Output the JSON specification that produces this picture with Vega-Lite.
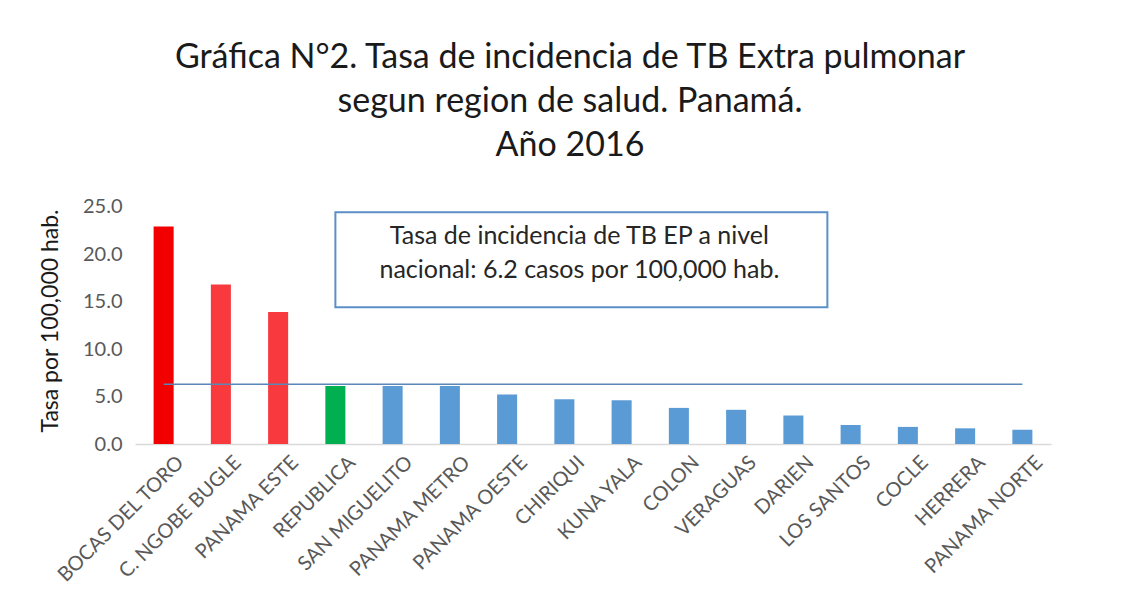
{
  "$schema": "https://vega.github.io/schema/vega-lite/v6.json",
  "autosize": "none",
  "width": 916,
  "height": 247,
  "padding": {"left": 135, "top": 197, "right": 74, "bottom": 171},
  "background": "white",
  "config": {"view": {"stroke": null}, "font": "Lato"},
  "title": {
    "text": ["Gráfica N°2. Tasa de incidencia de TB Extra pulmonar", "segun region de salud. Panamá.", "Año 2016"],
    "fontSize": 34,
    "fontWeight": "normal",
    "font": "Lato",
    "color": "#1a1a1a",
    "lineHeight": 44,
    "anchor": "middle",
    "dx": -23,
    "offset": 34
  },
  "datasets": {
    "tasas": [
      {"region": "BOCAS DEL TORO", "tasa": 22.9, "grupo": "muy alto"},
      {"region": "C. NGOBE BUGLE", "tasa": 16.8, "grupo": "alto"},
      {"region": "PANAMA ESTE", "tasa": 13.9, "grupo": "alto"},
      {"region": "REPUBLICA", "tasa": 6.1, "grupo": "nacional"},
      {"region": "SAN MIGUELITO", "tasa": 6.1, "grupo": "otro"},
      {"region": "PANAMA METRO", "tasa": 6.1, "grupo": "otro"},
      {"region": "PANAMA OESTE", "tasa": 5.2, "grupo": "otro"},
      {"region": "CHIRIQUI", "tasa": 4.7, "grupo": "otro"},
      {"region": "KUNA YALA", "tasa": 4.6, "grupo": "otro"},
      {"region": "COLON", "tasa": 3.8, "grupo": "otro"},
      {"region": "VERAGUAS", "tasa": 3.6, "grupo": "otro"},
      {"region": "DARIEN", "tasa": 3.0, "grupo": "otro"},
      {"region": "LOS SANTOS", "tasa": 2.0, "grupo": "otro"},
      {"region": "COCLE", "tasa": 1.8, "grupo": "otro"},
      {"region": "HERRERA", "tasa": 1.65, "grupo": "otro"},
      {"region": "PANAMA NORTE", "tasa": 1.5, "grupo": "otro"}
    ],
    "linea": [{"desde": "BOCAS DEL TORO", "hasta": "PANAMA NORTE", "valor": 6.3}],
    "caja": [{"desde": "REPUBLICA", "hasta": "DARIEN", "arriba": 24.4, "abajo": 14.4, "centro": "CHIRIQUI", "medio": 21.9,
      "texto": ["Tasa de incidencia de TB EP a nivel", "nacional: 6.2 casos por 100,000 hab."]}]
  },
  "layer": [
    {
      "data": {"name": "tasas"},
      "mark": {"type": "bar"},
      "encoding": {
        "x": {
          "field": "region", "type": "nominal", "sort": null,
          "scale": {
            "domain": ["BOCAS DEL TORO", "C. NGOBE BUGLE", "PANAMA ESTE", "REPUBLICA", "SAN MIGUELITO", "PANAMA METRO", "PANAMA OESTE", "CHIRIQUI", "KUNA YALA", "COLON", "VERAGUAS", "DARIEN", "LOS SANTOS", "COCLE", "HERRERA", "PANAMA NORTE"],
            "paddingInner": 0.65, "paddingOuter": 0.325
          },
          "axis": {
            "title": null, "labelAngle": -45, "labelFontSize": 20, "labelColor": "#595959",
            "labelFont": "Lato", "ticks": false, "domainColor": "#d9d9d9", "domainWidth": 1.5,
            "labelPadding": 8, "labelOffset": 10
          }
        },
        "y": {
          "field": "tasa", "type": "quantitative",
          "scale": {"domain": [0, 25]},
          "axis": {
            "title": "Tasa por 100,000 hab.", "titleFontSize": 23, "titleFontWeight": "normal",
            "titleColor": "#1a1a1a", "titleFont": "Lato", "titlePadding": 20,
            "values": [0, 5, 10, 15, 20, 25], "format": ".1f", "grid": false,
            "domain": false, "ticks": false, "labelFontSize": 20, "labelColor": "#595959",
            "labelPadding": 13
          }
        },
        "color": {
          "field": "grupo", "type": "nominal", "legend": null,
          "scale": {"domain": ["muy alto", "alto", "nacional", "otro"], "range": ["#f20000", "#f83a3f", "#00b050", "#5b9bd5"]}
        }
      }
    },
    {
      "data": {"name": "linea"},
      "mark": {"type": "rule", "color": "#5a86b8", "strokeWidth": 1.5},
      "encoding": {
        "x": {"field": "desde", "type": "nominal"},
        "x2": {"field": "hasta"},
        "y": {"field": "valor", "type": "quantitative"}
      }
    },
    {
      "data": {"name": "caja"},
      "mark": {"type": "rect", "fill": "white", "stroke": "#5b8fc7", "strokeWidth": 2, "x2Offset": 34},
      "encoding": {
        "x": {"field": "desde", "type": "nominal"},
        "x2": {"field": "hasta"},
        "y": {"field": "arriba", "type": "quantitative"},
        "y2": {"field": "abajo"}
      }
    },
    {
      "data": {"name": "caja"},
      "mark": {"type": "text", "fontSize": 25, "font": "Lato", "color": "#262626", "lineHeight": 34, "align": "center", "baseline": "middle", "dx": 15},
      "encoding": {
        "x": {"field": "centro", "type": "nominal"},
        "y": {"field": "medio", "type": "quantitative"},
        "text": {"field": "texto"}
      }
    }
  ]
}
